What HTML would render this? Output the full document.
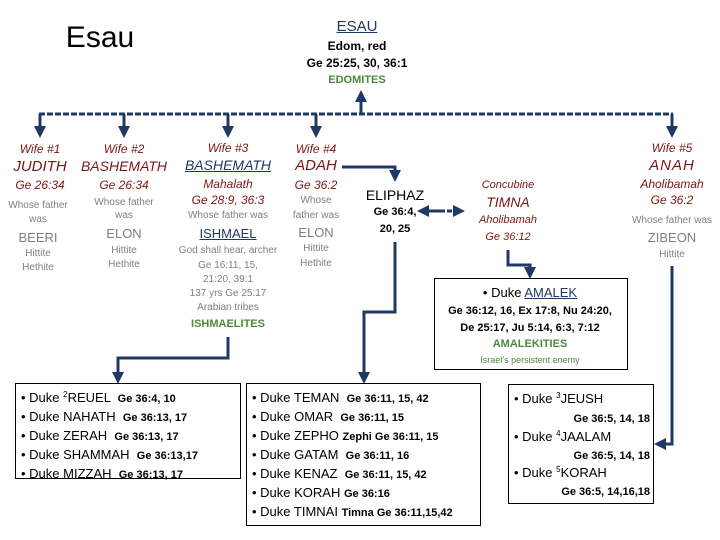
<!DOCTYPE html>
<html><head><meta charset="utf-8"><style>
body{margin:0;width:720px;height:540px;background:#fff;position:relative;overflow:hidden;font-family:"Liberation Sans",sans-serif}
.c{position:absolute;transform:translateX(-50%);white-space:nowrap;line-height:16px;text-align:center}
.r{color:#7b1616;font-style:italic}
.g{color:#7f7f7f}
.gr{color:#4a8a3c;font-weight:bold}
.k{color:#000}
.u{text-decoration:underline}
.box{position:absolute;border:1px solid #000;background:#fff}
.ln{position:absolute;left:5px;white-space:nowrap;font-size:13px;line-height:19px;color:#000}
.ln b{font-size:11px}
.sp{position:relative;top:-5px;font-size:8px;line-height:0}
svg{position:absolute;left:0;top:0}
</style></head><body>
<svg width="720" height="540">
<defs><marker id="a" markerWidth="4" markerHeight="4" refX="2" refY="2" orient="auto" markerUnits="strokeWidth"><path d="M0,0 L4,2 L0,4 z" fill="#1f3864"/></marker></defs>
<g stroke="#1f3864" stroke-width="3" fill="none">
<path d="M39,114 H673" stroke-dasharray="6,2"/>
<path d="M361,114 V96" marker-end="url(#a)"/>
<path d="M40,114 V132" marker-end="url(#a)"/>
<path d="M124,114 V132" marker-end="url(#a)"/>
<path d="M228,114 V132" marker-end="url(#a)"/>
<path d="M316,114 V132" marker-end="url(#a)"/>
<path d="M672,114 V132" marker-end="url(#a)"/>
<path d="M342,167 H395 V176" marker-end="url(#a)"/>
<path d="M395,242 V312 H364 V378" marker-end="url(#a)"/>
<path d="M228,337 V358 H118 V378" marker-end="url(#a)"/>
<path d="M508,250 V265 H530 V273" marker-end="url(#a)"/>
<path d="M672,266 V444 H660" marker-end="url(#a)"/>
<path d="M433,211 H459" stroke-dasharray="5,2" marker-end="url(#a)"/>
<path d="M445,211 H423" marker-end="url(#a)"/>
</g>
</svg>

<div class="c k" style="left:100px;top:20px;font-size:30px;line-height:36px">Esau</div>
<div class="c u" style="left:357px;top:19px;font-size:15px;color:#1f3864">ESAU</div>
<div class="c k" style="left:357px;top:38px;font-size:12px;font-weight:bold">Edom, red</div>
<div class="c k" style="left:357px;top:55px;font-size:12px;font-weight:bold">Ge 25:25, 30, 36:1</div>
<div class="c gr" style="left:357px;top:72px;font-size:11px">EDOMITES</div>

<div class="c r" style="left:40px;top:141px;font-size:12px">Wife #1</div>
<div class="c r" style="left:40px;top:158px;font-size:15px;line-height:18px">JUDITH</div>
<div class="c r" style="left:40px;top:177px;font-size:12px">Ge 26:34</div>
<div class="c g" style="left:38px;top:198px;font-size:10px">Whose father</div>
<div class="c g" style="left:38px;top:212px;font-size:10px">was</div>
<div class="c g" style="left:38px;top:230px;font-size:13px">BEERI</div>
<div class="c g" style="left:38px;top:246px;font-size:10px">Hittite</div>
<div class="c g" style="left:38px;top:260px;font-size:10px">Hethite</div>

<div class="c r" style="left:124px;top:141px;font-size:12px">Wife #2</div>
<div class="c r" style="left:124px;top:157px;font-size:14px;line-height:18px">BASHEMATH</div>
<div class="c r" style="left:124px;top:177px;font-size:12px">Ge 26:34</div>
<div class="c g" style="left:124px;top:195px;font-size:10px">Whose father</div>
<div class="c g" style="left:124px;top:208px;font-size:10px">was</div>
<div class="c g" style="left:124px;top:226px;font-size:13px">ELON</div>
<div class="c g" style="left:124px;top:243px;font-size:10px">Hittite</div>
<div class="c g" style="left:124px;top:257px;font-size:10px">Hethite</div>

<div class="c r" style="left:228px;top:140px;font-size:12px">Wife #3</div>
<div class="c r" style="left:228px;top:156px;font-size:14px;line-height:18px;color:#1f3864;text-decoration:underline">BASHEMATH</div>
<div class="c r" style="left:228px;top:176px;font-size:12px">Mahalath</div>
<div class="c r" style="left:228px;top:192px;font-size:12px">Ge 28:9, 36:3</div>
<div class="c g" style="left:228px;top:208px;font-size:10px">Whose father was</div>
<div class="c u" style="left:228px;top:226px;font-size:13px;color:#1f3864">ISHMAEL</div>
<div class="c g" style="left:228px;top:243px;font-size:10px">God shall hear, archer</div>
<div class="c g" style="left:228px;top:258px;font-size:10px">Ge 16:11, 15,</div>
<div class="c g" style="left:228px;top:272px;font-size:10px">21:20, 39:1</div>
<div class="c g" style="left:228px;top:286px;font-size:10px">137 yrs Ge 25:17</div>
<div class="c g" style="left:228px;top:300px;font-size:10px">Arabian tribes</div>
<div class="c gr" style="left:228px;top:316px;font-size:11px">ISHMAELITES</div>

<div class="c r" style="left:316px;top:141px;font-size:12px">Wife #4</div>
<div class="c r" style="left:316px;top:157px;font-size:15px;line-height:18px">ADAH</div>
<div class="c r" style="left:316px;top:177px;font-size:12px">Ge 36:2</div>
<div class="c g" style="left:316px;top:193px;font-size:10px">Whose</div>
<div class="c g" style="left:316px;top:208px;font-size:10px">father was</div>
<div class="c g" style="left:316px;top:225px;font-size:13px">ELON</div>
<div class="c g" style="left:316px;top:241px;font-size:10px">Hittite</div>
<div class="c g" style="left:316px;top:256px;font-size:10px">Hethite</div>

<div class="c k" style="left:395px;top:187px;font-size:14px">ELIPHAZ</div>
<div class="c k" style="left:395px;top:204px;font-size:11px;font-weight:bold">Ge 36:4,</div>
<div class="c k" style="left:395px;top:221px;font-size:11px;font-weight:bold">20, 25</div>

<div class="c r" style="left:508px;top:177px;font-size:11px">Concubine</div>
<div class="c r" style="left:508px;top:194px;font-size:14px">TIMNA</div>
<div class="c r" style="left:508px;top:212px;font-size:11px">Aholibamah</div>
<div class="c r" style="left:508px;top:229px;font-size:11px">Ge 36:12</div>

<div class="c r" style="left:672px;top:140px;font-size:12px">Wife #5</div>
<div class="c r" style="left:672px;top:157px;font-size:15px;line-height:18px;letter-spacing:1px">ANAH</div>
<div class="c r" style="left:672px;top:176px;font-size:12px">Aholibamah</div>
<div class="c r" style="left:672px;top:192px;font-size:12px">Ge 36:2</div>
<div class="c g" style="left:672px;top:213px;font-size:10px">Whose father was</div>
<div class="c g" style="left:672px;top:230px;font-size:13px">ZIBEON</div>
<div class="c g" style="left:672px;top:247px;font-size:10px">Hittite</div>

<div class="box" style="left:434px;top:278px;width:192px;height:90px"></div>
<div class="c k" style="left:530px;top:285px;font-size:13px">• Duke <span class="u" style="color:#1f3864">AMALEK</span></div>
<div class="c k" style="left:530px;top:303px;font-size:11px;font-weight:bold">Ge 36:12, 16, Ex 17:8, Nu 24:20,</div>
<div class="c k" style="left:530px;top:320px;font-size:11px;font-weight:bold">De 25:17, Ju 5:14, 6:3, 7:12</div>
<div class="c gr" style="left:530px;top:336px;font-size:11px">AMALEKITIES</div>
<div class="c" style="left:530px;top:352px;font-size:9px;color:#4a8a3c">Israel’s persistent enemy</div>

<div class="box" style="left:15px;top:383px;width:224px;height:94px">
<div class="ln" style="top:4px">• Duke <span class="sp">2</span>REUEL &nbsp;<b>Ge 36:4, 10</b></div>
<div class="ln" style="top:23px">• Duke NAHATH &nbsp;<b>Ge 36:13, 17</b></div>
<div class="ln" style="top:42px">• Duke ZERAH &nbsp;<b>Ge 36:13, 17</b></div>
<div class="ln" style="top:61px">• Duke SHAMMAH &nbsp;<b>Ge 36:13,17</b></div>
<div class="ln" style="top:80px">• Duke MIZZAH &nbsp;<b>Ge 36:13, 17</b></div>
</div>

<div class="box" style="left:246px;top:383px;width:233px;height:141px">
<div class="ln" style="top:4px">• Duke TEMAN &nbsp;<b>Ge 36:11, 15, 42</b></div>
<div class="ln" style="top:23px">• Duke OMAR &nbsp;<b>Ge 36:11, 15</b></div>
<div class="ln" style="top:42px">• Duke ZEPHO <b>Zephi Ge 36:11, 15</b></div>
<div class="ln" style="top:61px">• Duke GATAM &nbsp;<b>Ge 36:11, 16</b></div>
<div class="ln" style="top:80px">• Duke KENAZ &nbsp;<b>Ge 36:11, 15, 42</b></div>
<div class="ln" style="top:99px">• Duke KORAH <b>Ge 36:16</b></div>
<div class="ln" style="top:118px">• Duke TIMNAI <b>Timna Ge 36:11,15,42</b></div>
</div>

<div class="box" style="left:508px;top:384px;width:144px;height:118px">
<div class="ln" style="top:4px">• Duke <span class="sp">3</span>JEUSH</div>
<div class="ln" style="top:23px;left:auto;right:3px"><b>Ge 36:5, 14, 18</b></div>
<div class="ln" style="top:42px">• Duke <span class="sp">4</span>JAALAM</div>
<div class="ln" style="top:60px;left:auto;right:3px"><b>Ge 36:5, 14, 18</b></div>
<div class="ln" style="top:78px">• Duke <span class="sp">5</span>KORAH</div>
<div class="ln" style="top:96px;left:auto;right:3px"><b>Ge 36:5, 14,16,18</b></div>
</div>
</body></html>
